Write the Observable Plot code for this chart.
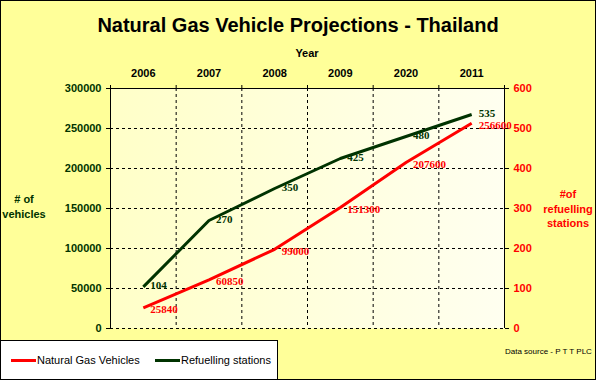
<!DOCTYPE html>
<html>
<head>
<meta charset="utf-8">
<script src="https://cdn.jsdelivr.net/npm/d3@7"></script>
<script src="https://cdn.jsdelivr.net/npm/@observablehq/plot@0.6"></script>
<style>
  html, body { margin: 0; padding: 0; background: #FFFF99; }
  #wrap { position: relative; width: 596px; height: 380px; background: #FFFF99; overflow: hidden;
          font-family: "Liberation Sans", Arial, sans-serif; }
  #wrap svg { position: absolute; left: 0; top: 0; }
  .abs { position: absolute; white-space: nowrap; }
  #title { left: 0; width: 596px; top: 13px; text-align: center; font-size: 20px; font-weight: bold; line-height: 24px; color: #000; }
  #xlabel { left: 257px; width: 100px; top: 46px; text-align: center; font-size: 11px; font-weight: bold; line-height: 14px; }
  #ylabelL { left: 0; width: 48px; top: 192px; text-align: center; font-size: 11px; font-weight: bold; line-height: 15px; color: #003300; }
  #ylabelR { left: 538px; width: 60px; top: 187px; text-align: center; font-size: 11px; font-weight: bold; line-height: 14.5px; color: #FF0000; }
  #legend { left: 0; top: 340px; width: 276px; height: 38px; background: #fff; border: 1px solid #000; }
  .litem { position: absolute; top: 12px; font-size: 11px; line-height: 14px; color: #000; }
  .lswatch { display: inline-block; width: 25px; height: 3px; vertical-align: middle; margin-right: 1px; position: relative; top: -1px; }
  #source { left: 505px; top: 347px; font-size: 8px; line-height: 10px; color: #000; }
  #border { left: 0; top: 0; width: 594px; height: 378px; border: 1px solid #000; pointer-events: none; }
</style>
</head>
<body>
<div id="wrap">
  <div id="chart"></div>
  <div class="abs" id="title">Natural Gas Vehicle Projections - Thailand</div>
  <div class="abs" id="xlabel">Year</div>
  <div class="abs" id="ylabelL"># of<br>vehicles</div>
  <div class="abs" id="ylabelR">#of<br>refuelling<br>stations</div>
  <div class="abs" id="legend">
    <div class="litem" style="left:10px"><span class="lswatch" style="background:#FF0000"></span>Natural Gas Vehicles</div>
    <div class="litem" style="left:154px"><span class="lswatch" style="background:#003300"></span>Refuelling stations</div>
  </div>
  <div class="abs" id="source">Data source - P T T PLC</div>
  <div class="abs" id="border"></div>
</div>
<script>
// ---- data ----
const years = ["2006", "2007", "2008", "2009", "2020", "2011"];
const vehicles = [25840, 60850, 99000, 151300, 207600, 256600];
const stations = [104, 270, 350, 425, 480, 535];
const vehicleTicks = [0, 50000, 100000, 150000, 200000, 250000, 300000];
const stationTicks = [0, 100, 200, 300, 400, 500, 600];

// ---- derived ----
const ratio = vehicleTicks[vehicleTicks.length - 1] / stationTicks[stationTicks.length - 1];
const rows = years.map((year, i) => ({i, year, vehicles: vehicles[i], stations: stations[i], stationsY: stations[i] * ratio}));
const idx = years.map((_, i) => i);
const bounds = d3.range(-0.5, years.length, 1);
const innerBounds = bounds.slice(1, -1);
const GREEN = "#003300";
const RED = "#FF0000";

const chart = Plot.plot({
  width: 596,
  height: 380,
  marginLeft: 110,
  marginRight: 92,
  marginTop: 88,
  marginBottom: 52,
  style: {background: "transparent", fontFamily: "'Liberation Sans', Arial, sans-serif", fontSize: "11px", overflow: "visible"},
  x: {type: "linear", domain: [-0.5, years.length - 0.5]},
  y: {domain: [0, vehicleTicks[vehicleTicks.length - 1]]},
  marks: [
    Plot.frame({fill: "url(#plotGrad)", stroke: "none"}),
    Plot.gridY(vehicleTicks.slice(0, -1), {stroke: "#000", strokeOpacity: 1, strokeDasharray: "3,3"}),
    Plot.gridX(innerBounds, {stroke: "#000", strokeOpacity: 1, strokeDasharray: "3,3"}),
    Plot.ruleY([vehicleTicks[vehicleTicks.length - 1]], {stroke: "#000"}),
    Plot.ruleX([bounds[0], bounds[bounds.length - 1]], {stroke: "#000"}),
    Plot.axisY(vehicleTicks, {anchor: "left", tickSize: 4, tickPadding: 5, label: null, tickFormat: d => String(d), fill: GREEN, fontWeight: "bold", fontSize: 11, stroke: "#000"}),
    Plot.axisY(stationTicks.map(v => v * ratio), {anchor: "right", tickSize: 4, tickPadding: 5, label: null, tickFormat: d => String(d / ratio), fill: RED, fontWeight: "bold", fontSize: 11, stroke: "#000"}),
    Plot.axisX(idx, {anchor: "top", tickSize: 0, tickPadding: 12, label: null, tickFormat: i => years[i], fill: "#000", fontWeight: "bold", fontSize: 11}),
    Plot.axisX(bounds, {anchor: "top", tickSize: 4, label: null, tickFormat: () => "", stroke: "#000"}),
    Plot.line(rows, {x: "i", y: "vehicles", stroke: RED, strokeWidth: 3, strokeLinecap: "butt"}),
    Plot.line(rows, {x: "i", y: "stationsY", stroke: GREEN, strokeWidth: 3, strokeLinecap: "butt"}),
    Plot.text(rows, {x: "i", y: "stationsY", text: d => String(d.stations), dx: 7, dy: -1, textAnchor: "start", fill: GREEN, fontWeight: "bold", fontSize: 11, fontFamily: "'Liberation Serif', 'Times New Roman', serif"}),
    Plot.text(rows, {x: "i", y: "vehicles", text: d => String(d.vehicles), dx: 7, dy: 2, textAnchor: "start", fill: RED, fontWeight: "bold", fontSize: 11, fontFamily: "'Liberation Serif', 'Times New Roman', serif"})
  ]
});

d3.select(chart).insert("defs", ":first-child").html(
  '<linearGradient id="plotGrad" x1="0" y1="0" x2="1" y2="0">' +
  '<stop offset="0" stop-color="#FFFFC8"/><stop offset="1" stop-color="#FFFFF0"/></linearGradient>'
);
document.getElementById("chart").appendChild(chart);
</script>
</body>
</html>
